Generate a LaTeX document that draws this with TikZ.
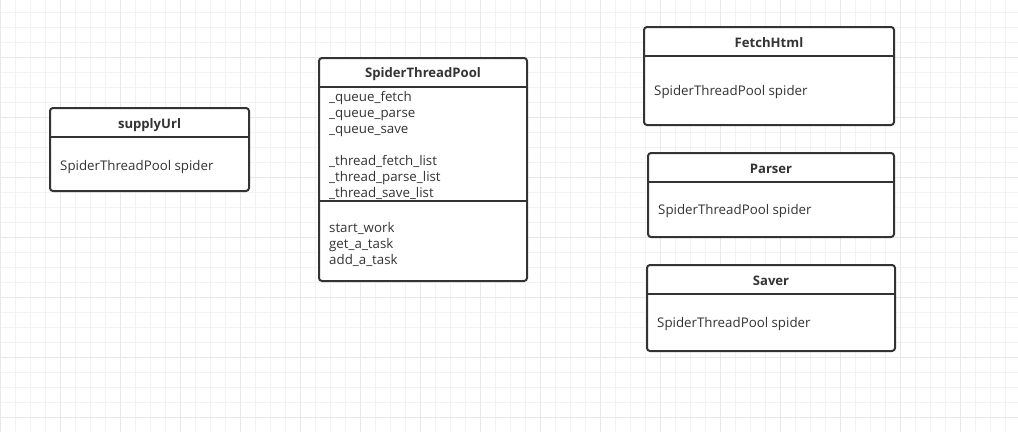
\documentclass[tikz,border=0pt]{standalone}
\usepackage{fontspec}
\setmainfont{Open Sans}
\begin{document}
\begin{tikzpicture}[x=1pt,y=-1pt,
    caja/.style={draw=borde,line width=2pt,rounded corners=3pt,fill=white,inner sep=0pt},
    linea/.style={draw=borde,line width=2pt},
    titulo/.style={font=\bfseries\fontsize{13.1}{15}\selectfont,text=texto},
    cuerpo/.style={font=\fontsize{13.3}{16}\selectfont,text=texto,anchor=west,align=left,inner sep=0pt}]
    %colores
    \colorlet{borde}{black!80}
    \colorlet{texto}{black!80}
    \colorlet{rejilla}{black!5}
    \colorlet{rejillab}{black!9}

    % fondo y rejilla
    \fill[white] (0,0) rectangle (1018,432);
    \useasboundingbox (0,0) rectangle (1018,432);
    \foreach \x in {0,15,...,1015} \draw[rejilla,line width=1pt] (\x+0.7,0) -- (\x+0.7,432);
    \foreach \y in {12,27,...,427} \draw[rejilla,line width=1pt] (0,\y+0.3) -- (1018,\y+0.3);
    \foreach \x in {0,60,...,1000} \draw[rejillab,line width=1pt] (\x+0.7,0) -- (\x+0.7,432);
    \foreach \y in {57,117,...,417} \draw[rejillab,line width=1pt] (0,\y+0.3) -- (1018,\y+0.3);

    % supplyUrl
    \node[caja,minimum width=199pt,minimum height=83pt] (supply) at (149.5,149.5) {};
    \draw[linea] ([yshift=-30pt]supply.north west) -- ([yshift=-30pt]supply.north east);
    \node[titulo] (supply-t) at (149.5,125) {supplyUrl};
    \node[cuerpo] (supply-c) at (60,167) {SpiderThreadPool spider};

    % SpiderThreadPool
    \node[caja,minimum width=208pt,minimum height=223pt] (pool) at (423,169.5) {};
    \draw[linea] ([yshift=-30pt]pool.north west) -- ([yshift=-30pt]pool.north east);
    \draw[linea] ([yshift=-144pt]pool.north west) -- ([yshift=-144pt]pool.north east);
    \node[titulo] (pool-t) at (423,74) {SpiderThreadPool};
    \node[cuerpo] (pool-a) at (329,145) {\_queue\_fetch\\\_queue\_parse\\\_queue\_save\\[16pt]\_thread\_fetch\_list\\\_thread\_parse\_list\\\_thread\_save\_list};
    \node[cuerpo] (pool-m) at (329,244) {start\_work\\get\_a\_task\\add\_a\_task};

    % clases de la derecha
    \foreach \n/\xa/\ya/\xb/\yb/\titulo in {fetch/644/27/894/125/FetchHtml,parser/648/153/894/237/Parser,saver/647/265/895/351/Saver}
    {
        \node[caja,minimum width={(\xb-\xa)*1pt},minimum height={(\yb-\ya)*1pt}] (\n) at ({(\xa+\xb)/2},{(\ya+\yb)/2}) {};
        \draw[linea] ([yshift=-30pt]\n.north west) -- ([yshift=-30pt]\n.north east);
        \node[titulo] (\n-t) at ({(\xa+\xb)/2},\ya+16) {\titulo};
        \node[cuerpo] (\n-c) at (\xa+10,{(\ya+30+\yb)/2+1.5}) {SpiderThreadPool spider};
    }
\end{tikzpicture}
\end{document}
